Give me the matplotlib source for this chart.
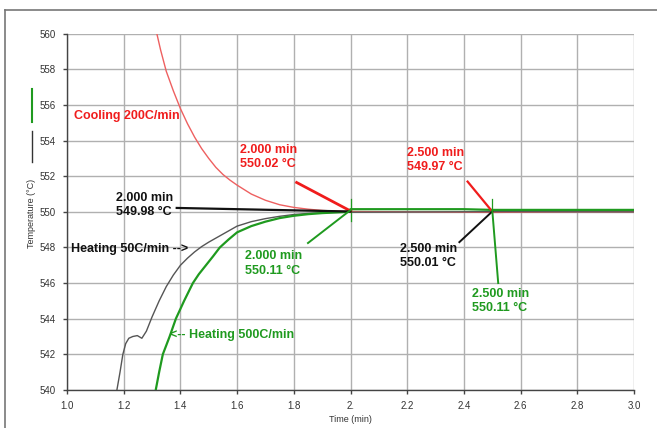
import matplotlib
matplotlib.use('Agg')
import matplotlib.pyplot as plt
from matplotlib.lines import Line2D

plt.rcParams['font.family'] = ['Liberation Sans', 'DejaVu Sans']

# cooling 200C/min (red)
cool_t = [1.317, 1.33, 1.35, 1.375, 1.40, 1.425, 1.45, 1.475, 1.50, 1.525, 1.55,
          1.575, 1.60, 1.65, 1.70, 1.75, 1.80, 1.85, 1.90, 1.95, 2.00, 2.20,
          2.50, 2.80, 3.00]
cool_T = [560.0, 559.1, 557.9, 556.8, 555.8, 554.95, 554.2, 553.55, 553.0, 552.5,
          552.1, 551.78, 551.5, 551.0, 550.65, 550.4, 550.25, 550.15, 550.08,
          550.04, 550.02, 550.0, 549.97, 550.0, 550.0]

# heating 50C/min (black)
heat50_t = [1.176, 1.187, 1.197, 1.207, 1.218, 1.232, 1.248, 1.264, 1.28, 1.30,
            1.325, 1.35, 1.375, 1.40, 1.425, 1.45, 1.475, 1.50, 1.55, 1.60, 1.65,
            1.70, 1.75, 1.80, 1.85, 1.90, 2.00, 2.50, 3.00]
heat50_T = [540.0, 541.0, 542.0, 542.6, 542.9, 543.0, 543.05, 542.9, 543.3, 544.1,
            545.0, 545.8, 546.45, 547.0, 547.4, 547.75, 548.05, 548.3, 548.75,
            549.2, 549.45, 549.62, 549.75, 549.85, 549.91, 549.95, 549.98,
            550.01, 550.0]

# heating 500C/min (green)
heat500_t = [1.313, 1.325, 1.338, 1.35, 1.362, 1.384, 1.40, 1.413, 1.444, 1.465,
             1.49, 1.515, 1.539, 1.57, 1.60, 1.65, 1.70, 1.75, 1.80, 1.85, 1.90,
             1.95, 1.99, 2.00, 2.40, 2.50, 3.00]
heat500_T = [540.0, 541.0, 542.0, 542.5, 543.0, 544.0, 544.55, 545.0, 546.0, 546.5,
             547.0, 547.5, 548.0, 548.45, 548.85, 549.2, 549.45, 549.65, 549.78,
             549.87, 549.93, 549.97, 550.0, 550.15, 550.15, 550.11, 550.11]

x_ticks = [1.0, 1.2, 1.4, 1.6, 1.8, 2.0, 2.2, 2.4, 2.6, 2.8, 3.0]
x_tick_labels = ['1.0', '1.2', '1.4', '1.6', '1.8', '2.', '2.2', '2.4', '2.6', '2.8', '3.0']
y_ticks = [540, 542, 544, 546, 548, 550, 552, 554, 556, 558, 560]

RED = '#f01c1c'
GREEN = '#1f9a1f'
BLACK = '#111111'

fig = plt.figure(figsize=(6.57, 4.28), dpi=100)
ax = fig.add_axes([0.102, 0.089, 0.863, 0.832])

ax.plot(cool_t, cool_T, color='#ee6060', lw=1.0, zorder=3)
ax.plot(heat50_t, heat50_T, color='#555555', lw=1.0, zorder=3)
ax.plot(heat500_t, heat500_T, color=GREEN, lw=1.6, zorder=4)

ax.set_xlim(1.0, 3.0)
ax.set_ylim(540, 560)
ax.set_xticks(x_ticks)
ax.set_xticklabels(x_tick_labels)
ax.set_yticks(y_ticks)
ax.grid(True, color='#b0b0b0', lw=1.0, zorder=0)
ax.set_axisbelow(True)
for side in ['top', 'right']:
    ax.spines[side].set_visible(False)
for side in ['left', 'bottom']:
    ax.spines[side].set_color('#444444')
    ax.spines[side].set_linewidth(1.0)
ax.tick_params(direction='out', length=3, width=1, color='#444444',
               labelsize=7, labelcolor='#333333', pad=5)
ax.set_xlabel('Time (min)', fontsize=6.5, color='#333333', labelpad=3)

# cursor markers
ax.plot([2.0, 2.0], [550.7, 549.5], color=GREEN, lw=0.9, zorder=5)
ax.plot([2.5, 2.5], [550.7, 550.1], color=GREEN, lw=0.9, zorder=5)

# leaders and labels
leaders = [
    ((1.81, 551.65), (2.0, 550.05), RED, 2.0),
    ((1.387, 550.22), (2.0, 550.02), BLACK, 1.6),
    ((1.85, 548.25), (2.0, 550.1), GREEN, 1.4),
    ((2.413, 551.7), (2.5, 550.02), RED, 1.6),
    ((2.384, 548.3), (2.5, 550.02), BLACK, 1.4),
    ((2.521, 546.0), (2.5, 550.1), GREEN, 1.4),
]
for (x0, y0), (x1, y1), c, w in leaders:
    ax.plot([x0, x1], [y0, y1], color=c, lw=w, zorder=6)

kw = dict(fontsize=9, fontweight='bold', va='center', ha='left', zorder=7,
          linespacing=1.25)
ax.text(1.025, 555.4, 'Cooling 200C/min', color=RED, **kw)
ax.text(1.609, 553.1, '2.000 min\n550.02 \u00b0C', color=RED, **kw)
ax.text(2.201, 552.9, '2.500 min\n549.97 \u00b0C', color=RED, **kw)
ax.text(1.172, 550.4, '2.000 min\n549.98 \u00b0C', color=BLACK, **kw)
ax.text(1.014, 547.9, 'Heating 50C/min -->', color=BLACK, **kw)
ax.text(1.627, 547.1, '2.000 min\n550.11 \u00b0C', color=GREEN, **kw)
ax.text(1.362, 543.1, '<-- Heating 500C/min', color=GREEN, **kw)
ax.text(2.173, 547.5, '2.500 min\n550.01 \u00b0C', color=BLACK, **kw)
ax.text(2.430, 545.0, '2.500 min\n550.11 \u00b0C', color=GREEN, **kw)

# y label with series swatches
fig.text(32 / 657, 1 - 213 / 428, 'Temperature (\u00b0C)', rotation=90,
         fontsize=6.5, color='#333333', ha='center', va='center')
fig.add_artist(Line2D([32 / 657, 32 / 657], [1 - 89 / 428, 1 - 122 / 428],
                      color=GREEN, lw=1.5, transform=fig.transFigure))
fig.add_artist(Line2D([32 / 657, 32 / 657], [1 - 131 / 428, 1 - 162 / 428],
                      color='#333333', lw=1.0, transform=fig.transFigure))

# outer frame (top and left edges)
fig.add_artist(Line2D([5 / 657, 1.0], [1 - 10 / 428, 1 - 10 / 428],
                      color='#777777', lw=1.2, transform=fig.transFigure))
fig.add_artist(Line2D([5 / 657, 5 / 657], [0.0, 1 - 10 / 428],
                      color='#777777', lw=1.2, transform=fig.transFigure))

fig.savefig('out.png', dpi=100)
